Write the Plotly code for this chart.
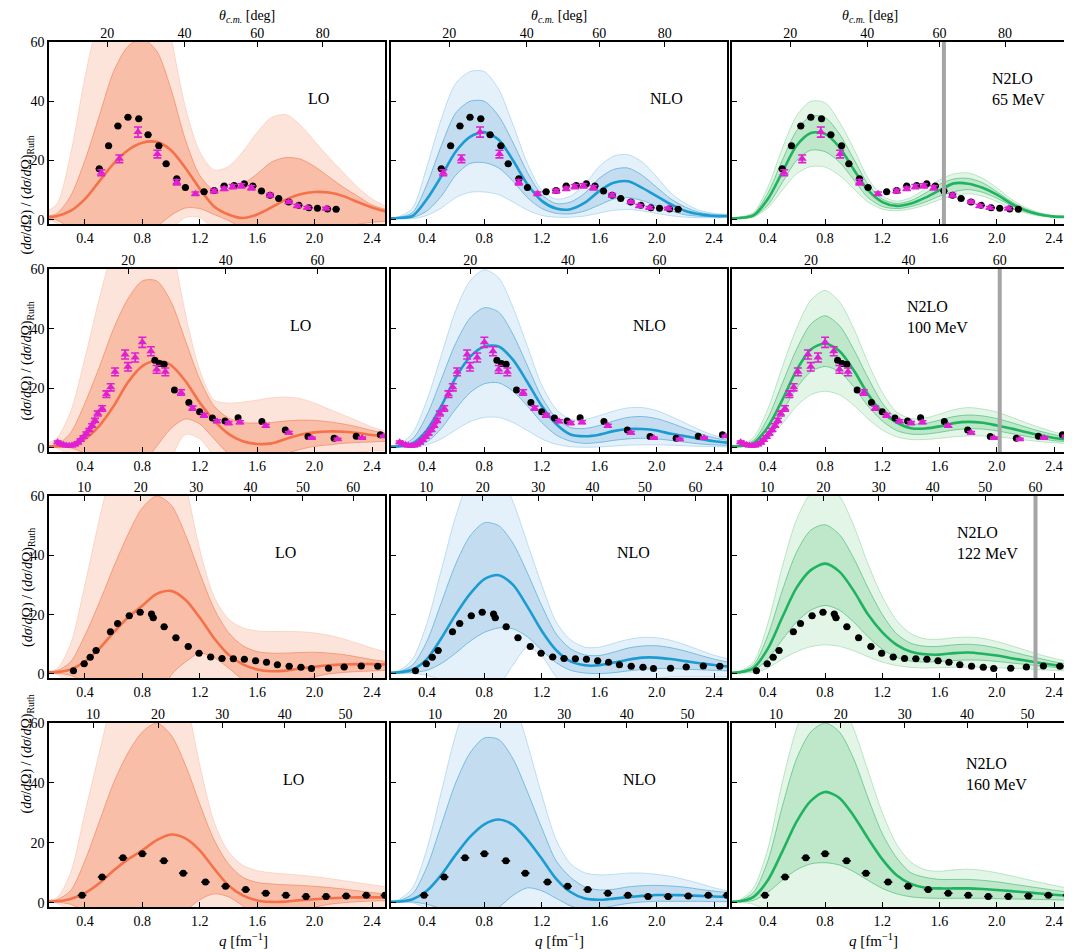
import numpy as np
import plotly.graph_objects as go

# ---- sample grid for the theory bands (q in fm^-1)
q = [0.1, 0.2, 0.3, 0.4, 0.5, 0.6, 0.7, 0.8, 0.9, 1.0, 1.1, 1.2, 1.3,
     1.4, 1.5, 1.6, 1.7, 1.8, 1.9, 2.0, 2.1, 2.2, 2.3, 2.4, 2.5]

energies = [65, 100, 122, 160]
orders = ["LO", "NLO", "N2LO"]

# ---- 65 MeV
lo65_c = [0.8, 1.2, 3.0, 7.0, 13.0, 19.0, 23.5, 26.0, 26.3, 23.5, 17.5, 10.5, 4.5, 1.8, 0.6, 1.8, 4.2, 6.8, 8.6, 9.4, 9.2, 8.0, 6.0, 4.2, 2.8]
lo65_ih = [1.2, 2.0, 8.0, 20.0, 35.0, 50.0, 58.5, 61.0, 57.0, 44.0, 27.0, 15.0, 10.0, 10.0, 12.0, 15.5, 19.5, 21.0, 20.5, 18.0, 14.5, 11.0, 8.0, 5.0, 3.5]
lo65_il = [0.3, 0.0, -3.0, -8.0, -15.0, -20.0, -22.0, -20.0, -3.0, 1.5, 4.0, 3.8, 1.8, -0.2, -3.0, -6.0, -8.0, -8.0, -7.0, -5.0, -3.5, -2.5, -1.5, -0.8, -0.5]
lo65_oh = [2.5, 5.0, 22.0, 48.0, 70.0, 90.0, 100.0, 100.0, 90.0, 62.0, 38.0, 23.0, 16.8, 18.0, 23.0, 29.5, 34.5, 35.5, 32.0, 26.5, 21.0, 16.0, 11.0, 7.0, 4.5]
lo65_ol = [0.2, -1.0, -6.0, -15.0, -25.0, -35.0, -40.0, -38.0, -20.0, -4.0, 0.8, 0.8, -4.0, -12.0, -18.0, -22.0, -24.0, -22.0, -18.0, -14.0, -10.0, -7.0, -5.0, -3.0, -2.0]

nlo65_c = [0.5, 0.6, 1.3, 7.0, 14.7, 23.0, 28.0, 29.6, 27.0, 20.0, 12.0, 6.4, 3.8, 3.6, 5.8, 9.7, 12.5, 13.0, 10.8, 8.0, 5.2, 3.0, 1.9, 1.3, 1.3]
nlo65_ih = [0.6, 0.8, 2.5, 12.0, 25.0, 36.0, 40.0, 40.0, 35.0, 26.0, 16.0, 8.5, 5.5, 6.0, 9.0, 14.0, 17.0, 17.5, 15.0, 11.0, 7.0, 4.3, 2.5, 1.8, 1.5]
nlo65_il = [0.4, 0.5, 0.8, 3.0, 8.0, 15.0, 19.0, 19.3, 17.5, 13.0, 7.5, 3.8, 2.2, 2.0, 3.0, 5.0, 7.0, 7.5, 6.5, 4.7, 3.0, 1.7, 1.2, 1.0, 1.0]
nlo65_oh = [0.7, 1.0, 4.0, 18.0, 34.0, 46.0, 50.0, 50.0, 44.0, 32.0, 19.0, 10.0, 7.0, 8.0, 12.0, 18.0, 21.5, 22.0, 19.5, 14.5, 9.0, 5.5, 3.2, 2.2, 1.8]
nlo65_ol = [0.3, 0.4, 0.4, 1.5, 4.0, 7.5, 9.3, 9.4, 8.5, 6.0, 3.3, 1.5, 0.9, 0.9, 1.3, 2.3, 3.2, 3.5, 3.0, 2.2, 1.4, 0.9, 0.7, 0.7, 0.7]

n2lo65_c = [0.5, 0.6, 1.5, 7.0, 16.0, 25.0, 29.3, 29.0, 24.5, 17.0, 10.0, 6.0, 4.7, 5.5, 7.5, 10.0, 12.3, 12.2, 10.8, 8.5, 5.5, 3.2, 1.8, 1.1, 1.0]
n2lo65_ih = [0.6, 0.8, 2.0, 9.0, 20.0, 30.0, 35.0, 34.5, 29.0, 20.5, 12.0, 7.0, 5.5, 6.5, 9.0, 12.0, 13.8, 14.0, 12.5, 9.5, 6.2, 3.7, 2.1, 1.3, 1.1]
n2lo65_il = [0.4, 0.5, 1.2, 5.0, 12.5, 20.0, 23.5, 23.0, 19.5, 13.5, 7.5, 4.5, 3.8, 4.5, 6.0, 8.0, 9.5, 10.2, 9.3, 7.3, 4.8, 2.7, 1.5, 1.0, 0.9]
n2lo65_oh = [0.7, 0.9, 2.5, 11.0, 24.0, 35.0, 40.0, 39.5, 33.0, 24.0, 14.0, 8.0, 6.3, 7.5, 10.5, 13.5, 15.5, 15.8, 14.0, 10.8, 7.0, 4.2, 2.4, 1.5, 1.2]
n2lo65_ol = [0.3, 0.4, 0.9, 4.0, 10.0, 15.5, 18.0, 17.8, 15.0, 10.5, 6.0, 3.6, 3.1, 3.7, 5.0, 6.8, 8.2, 8.8, 8.0, 6.2, 4.0, 2.3, 1.3, 0.9, 0.8]

# ---- 100 MeV
lo100_c = [0.5, 0.5, 0.8, 3.0, 7.4, 14.0, 22.0, 27.4, 29.3, 27.7, 22.4, 15.2, 9.1, 4.7, 2.2, 1.3, 1.5, 3.0, 4.4, 5.2, 5.5, 5.4, 5.0, 4.3, 3.9]
lo100_ih = [0.8, 1.0, 5.0, 15.0, 27.0, 40.0, 50.0, 56.0, 56.0, 49.0, 36.0, 23.0, 14.0, 10.0, 8.5, 8.3, 8.5, 9.0, 9.3, 9.2, 8.7, 8.0, 7.0, 5.8, 4.8]
lo100_il = [0.3, 0.2, 0.0, -2.0, -6.0, -10.0, -12.0, -6.0, 0.5, 6.5, 9.7, 8.0, 3.0, -2.0, -5.0, -5.0, -4.0, -2.0, -0.5, 0.5, 1.0, 1.5, 1.8, 2.0, 2.2]
lo100_oh = [1.0, 3.0, 12.0, 30.0, 50.0, 68.0, 85.0, 95.0, 92.0, 70.0, 45.0, 26.0, 16.0, 15.0, 15.3, 16.0, 16.8, 17.0, 16.5, 15.0, 13.0, 11.0, 9.0, 7.0, 5.5]
lo100_ol = [0.2, 0.0, -3.0, -10.0, -20.0, -30.0, -35.0, -30.0, -20.0, -4.0, 4.5, 3.0, -3.0, -10.0, -15.0, -15.0, -12.0, -9.0, -6.0, -4.0, -3.0, -2.0, -1.5, -1.0, -1.0]

nlo100_c = [0.4, 0.5, 1.5, 6.0, 14.0, 23.5, 30.5, 34.0, 34.0, 29.5, 22.0, 14.0, 8.0, 4.5, 3.9, 4.4, 5.6, 6.3, 6.3, 5.8, 4.7, 3.9, 3.0, 2.2, 1.7]
nlo100_ih = [0.6, 0.8, 3.0, 11.0, 23.0, 35.0, 43.5, 47.0, 45.5, 38.0, 27.5, 17.0, 10.0, 6.8, 6.5, 7.5, 9.0, 10.2, 10.5, 9.8, 8.3, 6.5, 4.8, 3.4, 2.5]
nlo100_il = [0.3, 0.3, 0.5, 2.0, 6.5, 13.0, 18.5, 21.5, 21.8, 19.0, 14.0, 8.5, 4.3, 2.2, 1.5, 1.8, 2.5, 3.0, 3.2, 3.0, 2.5, 1.9, 1.3, 1.0, 0.8]
nlo100_oh = [0.7, 1.0, 5.0, 16.0, 31.0, 46.0, 56.0, 59.7, 57.0, 47.0, 34.0, 21.0, 13.0, 9.5, 9.5, 10.8, 12.3, 13.4, 13.5, 12.5, 10.5, 8.3, 6.0, 4.2, 3.0]
nlo100_ol = [0.2, 0.2, 0.2, 1.0, 3.0, 6.0, 8.8, 10.2, 10.2, 8.5, 5.8, 3.0, 1.2, 0.4, 0.2, 0.3, 0.6, 0.9, 1.0, 1.0, 0.9, 0.7, 0.5, 0.4, 0.3]

n2lo100_c = [0.5, 0.6, 1.6, 7.0, 16.0, 26.0, 33.0, 35.0, 32.5, 26.0, 18.0, 12.0, 8.5, 6.6, 6.5, 7.2, 8.3, 8.7, 8.4, 7.5, 6.5, 5.3, 4.2, 3.3, 2.7]
n2lo100_ih = [0.6, 0.8, 2.5, 10.0, 21.5, 33.0, 41.5, 44.3, 41.0, 33.0, 23.5, 15.0, 9.8, 8.0, 8.2, 9.3, 10.5, 11.0, 10.7, 9.8, 8.5, 7.0, 5.6, 4.4, 3.5]
n2lo100_il = [0.4, 0.4, 1.0, 5.0, 12.0, 20.0, 25.5, 27.3, 25.5, 20.5, 14.0, 9.0, 5.8, 4.6, 4.6, 5.2, 6.0, 6.4, 6.3, 5.7, 4.8, 3.9, 3.1, 2.4, 2.0]
n2lo100_oh = [0.7, 0.9, 3.5, 13.0, 27.0, 40.0, 49.5, 52.8, 49.0, 40.0, 28.5, 18.5, 12.0, 9.8, 10.0, 11.3, 12.8, 13.5, 13.0, 12.0, 10.3, 8.5, 6.8, 5.3, 4.2]
n2lo100_ol = [0.3, 0.3, 0.6, 3.0, 8.0, 14.0, 17.8, 19.0, 17.8, 14.3, 9.7, 6.0, 3.7, 2.8, 2.8, 3.2, 3.7, 4.0, 4.0, 3.7, 3.2, 2.6, 2.1, 1.7, 1.4]

# ---- 122 MeV
lo122_c = [0.5, 0.6, 1.5, 4.2, 8.5, 14.0, 19.0, 23.0, 27.0, 28.0, 25.0, 19.0, 12.0, 6.5, 3.2, 1.5, 0.9, 1.1, 1.8, 2.4, 2.9, 3.2, 3.3, 3.3, 3.2]
lo122_ih = [0.8, 1.0, 4.0, 13.0, 24.0, 36.0, 47.0, 56.0, 60.0, 57.0, 47.0, 34.0, 22.0, 14.0, 9.5, 7.5, 7.0, 7.0, 7.2, 7.3, 7.0, 6.5, 5.7, 4.8, 4.2]
lo122_il = [0.3, 0.2, -0.5, -3.0, -8.0, -14.0, -18.0, -20.0, -12.0, -0.5, 4.0, 7.0, 5.5, 2.0, -2.0, -5.0, -5.0, -4.0, -2.5, -1.0, 0.0, 0.5, 0.8, 1.0, 1.2]
lo122_oh = [1.0, 1.5, 10.0, 30.0, 52.0, 72.0, 90.0, 100.0, 100.0, 90.0, 65.0, 42.0, 26.0, 18.5, 15.5, 14.5, 14.3, 14.3, 14.2, 13.8, 13.0, 11.8, 10.3, 8.7, 7.3]
lo122_ol = [0.2, 0.0, -4.0, -12.0, -22.0, -32.0, -38.0, -40.0, -35.0, -25.0, -12.0, -5.0, -5.0, -10.0, -15.0, -18.0, -18.0, -16.0, -13.0, -10.0, -8.0, -6.0, -4.0, -3.0, -2.0]

nlo122_c = [0.4, 0.5, 1.5, 5.0, 12.0, 20.0, 27.0, 32.0, 33.3, 30.0, 22.7, 14.5, 8.0, 4.2, 2.9, 2.9, 3.8, 4.8, 5.5, 5.5, 5.0, 4.3, 3.6, 3.0, 2.5]
nlo122_ih = [0.5, 0.7, 3.0, 11.0, 24.0, 37.0, 46.5, 51.0, 50.0, 44.0, 34.0, 23.0, 13.5, 8.5, 6.4, 6.2, 7.3, 8.7, 9.4, 9.5, 8.8, 7.7, 6.3, 5.0, 3.9]
nlo122_il = [0.3, 0.3, 0.5, 1.2, 3.5, 7.0, 11.0, 14.0, 15.5, 15.2, 12.5, 8.0, 3.8, 1.2, 0.3, 0.1, 0.4, 1.0, 1.5, 1.8, 1.8, 1.6, 1.4, 1.2, 1.0]
nlo122_oh = [0.6, 1.0, 5.0, 17.0, 35.0, 53.0, 66.0, 71.0, 68.0, 58.0, 44.0, 30.0, 17.5, 11.5, 9.0, 9.0, 10.3, 11.6, 12.3, 12.2, 11.3, 9.8, 8.0, 6.3, 5.0]
nlo122_ol = [0.2, 0.2, 0.2, -0.5, -2.0, -4.0, -6.0, -7.0, -4.0, 3.0, 9.0, 6.0, -1.0, -5.0, -6.0, -5.0, -4.0, -3.0, -2.0, -1.5, -1.0, -1.0, -1.0, -1.0, -1.0]

n2lo122_c = [0.4, 0.5, 2.0, 8.5, 19.0, 29.0, 35.0, 37.2, 34.5, 28.0, 20.0, 14.0, 9.8, 7.5, 6.6, 6.5, 7.0, 7.2, 6.8, 6.2, 5.3, 4.5, 3.7, 3.0, 2.4]
n2lo122_ih = [0.5, 0.7, 3.0, 13.0, 28.0, 41.0, 48.5, 50.3, 47.0, 39.0, 29.0, 20.0, 13.5, 10.3, 9.3, 9.3, 9.8, 10.0, 9.6, 8.7, 7.5, 6.3, 5.2, 4.1, 3.3]
n2lo122_il = [0.3, 0.4, 1.2, 5.0, 11.5, 17.5, 21.5, 23.1, 21.5, 17.5, 12.5, 8.3, 5.6, 4.3, 4.0, 4.2, 4.5, 4.7, 4.6, 4.2, 3.7, 3.2, 2.7, 2.2, 1.8]
n2lo122_oh = [0.6, 0.9, 4.0, 17.0, 36.0, 52.0, 61.0, 64.0, 60.0, 50.0, 37.0, 26.0, 18.0, 13.5, 11.8, 11.7, 12.2, 12.4, 12.0, 10.9, 9.5, 8.0, 6.5, 5.2, 4.2]
n2lo122_ol = [0.2, 0.3, 0.5, 2.0, 5.0, 7.5, 9.2, 9.8, 9.3, 7.8, 5.8, 4.0, 2.8, 2.2, 2.0, 2.1, 2.2, 2.3, 2.3, 2.1, 1.9, 1.7, 1.4, 1.2, 1.0]

# ---- 160 MeV
lo160_c = [0.5, 0.5, 1.3, 3.2, 6.5, 10.8, 14.5, 17.5, 20.9, 22.8, 21.5, 17.5, 11.4, 5.8, 2.5, 0.8, 0.3, 0.4, 0.9, 1.2, 1.5, 1.7, 1.8, 1.8, 1.8]
lo160_ih = [0.8, 1.0, 4.0, 14.0, 27.0, 40.0, 50.0, 57.0, 60.0, 56.0, 46.0, 33.0, 21.0, 13.0, 8.5, 6.8, 6.3, 6.0, 5.8, 5.5, 5.1, 4.6, 4.0, 3.4, 3.0]
lo160_il = [0.3, 0.2, -0.5, -3.0, -8.0, -13.0, -17.0, -18.0, -15.0, -9.0, -3.0, 1.0, 3.0, 2.0, -1.0, -4.0, -5.0, -4.0, -3.0, -1.5, -0.5, 0.0, 0.4, 0.6, 0.7]
lo160_oh = [1.0, 1.5, 10.0, 30.0, 50.0, 70.0, 88.0, 100.0, 100.0, 92.0, 70.0, 46.0, 27.0, 17.0, 12.5, 10.7, 10.0, 9.6, 9.2, 8.7, 8.1, 7.4, 6.7, 6.0, 5.3]
lo160_ol = [0.2, 0.0, -4.0, -12.0, -22.0, -32.0, -38.0, -40.0, -36.0, -28.0, -18.0, -10.0, -8.0, -10.0, -13.0, -15.0, -15.0, -13.0, -10.0, -8.0, -6.0, -5.0, -4.0, -3.0, -2.0]

nlo160_c = [0.4, 0.4, 1.2, 4.0, 9.3, 16.0, 22.0, 26.2, 27.8, 26.0, 21.0, 14.7, 8.0, 3.6, 1.4, 1.0, 1.4, 1.9, 2.3, 2.6, 2.6, 2.5, 2.3, 2.1, 1.9]
nlo160_ih = [0.5, 0.7, 3.0, 12.0, 26.0, 40.0, 50.0, 55.0, 54.5, 48.0, 37.0, 25.0, 14.0, 8.5, 5.3, 4.3, 4.5, 5.3, 5.7, 5.8, 5.6, 5.2, 4.5, 3.9, 3.4]
nlo160_il = [0.3, 0.3, 0.3, -0.5, -2.0, -4.0, -5.0, -4.0, -1.5, 2.5, 5.0, 4.0, 1.5, -1.0, -2.5, -2.0, -1.0, -0.2, 0.3, 0.5, 0.5, 0.5, 0.5, 0.4, 0.4]
nlo160_oh = [0.6, 1.0, 5.0, 18.0, 37.0, 56.0, 70.0, 77.0, 76.0, 68.0, 53.0, 36.0, 21.0, 13.0, 10.0, 9.3, 9.5, 9.9, 9.9, 9.5, 8.8, 7.7, 6.4, 5.0, 3.9]
nlo160_ol = [0.2, 0.2, 0.0, -2.0, -6.0, -10.0, -13.0, -14.0, -12.0, -8.0, -5.0, -5.0, -7.0, -9.0, -9.0, -7.0, -5.0, -3.5, -2.5, -2.0, -1.8, -1.8, -1.8, -1.8, -1.8]

n2lo160_c = [0.4, 0.5, 2.0, 7.5, 17.0, 27.0, 34.0, 37.0, 35.0, 29.0, 21.5, 14.5, 9.2, 6.3, 5.0, 4.8, 4.8, 4.8, 4.6, 4.3, 3.9, 3.5, 3.1, 2.7, 2.3]
n2lo160_ih = [0.5, 0.7, 3.5, 14.0, 32.0, 48.0, 57.0, 60.0, 57.0, 48.0, 35.0, 23.0, 15.0, 10.0, 8.5, 7.8, 7.8, 7.8, 7.5, 7.0, 6.3, 5.6, 4.9, 4.2, 3.6]
n2lo160_il = [0.3, 0.3, 0.8, 3.5, 7.5, 11.0, 13.0, 13.4, 12.6, 10.4, 7.5, 4.8, 3.0, 2.0, 1.6, 1.5, 1.5, 1.5, 1.5, 1.4, 1.3, 1.2, 1.1, 1.0, 0.9]
n2lo160_oh = [0.6, 0.9, 5.0, 18.0, 40.0, 58.0, 69.0, 72.0, 68.0, 58.0, 44.0, 30.0, 19.5, 13.5, 11.0, 10.5, 11.0, 11.2, 10.8, 10.0, 9.0, 7.9, 6.8, 5.8, 4.8]
n2lo160_ol = [0.2, 0.2, -0.5, -3.0, -6.0, -9.0, -10.0, -10.0, -9.0, -7.0, -5.0, -3.5, -2.5, -2.2, -2.0, -2.0, -2.0, -2.0, -2.0, -2.0, -2.0, -2.0, -2.0, -2.0, -2.0]

# ---- experimental data (black circles, shared by a row)
blk65_q = [0.50, 0.565, 0.63, 0.70, 0.775, 0.84, 0.915, 0.966, 1.04, 1.10, 1.23, 1.30, 1.37, 1.44, 1.51, 1.57, 1.63, 1.69, 1.75, 1.82, 1.89, 1.96, 2.02, 2.09, 2.15]
blk65_v = [17.2, 25.0, 31.7, 34.6, 34.1, 28.7, 25.0, 18.9, 13.9, 10.9, 9.5, 9.9, 11.4, 11.6, 12.2, 11.4, 9.7, 8.3, 7.2, 6.0, 4.9, 4.1, 3.9, 3.7, 3.6]
blk100_q = [0.887, 0.919, 0.952, 1.024, 1.124, 1.199, 1.288, 1.376, 1.467, 1.633, 1.796, 1.954, 2.136, 2.29, 2.458]
blk100_v = [29.4, 28.3, 28.0, 19.4, 15.2, 12.1, 10.0, 9.0, 10.1, 8.8, 6.0, 3.8, 3.2, 3.9, 4.4]
blk122_q = [0.32, 0.395, 0.437, 0.478, 0.578, 0.628, 0.709, 0.785, 0.864, 0.876, 0.952, 1.034, 1.12, 1.195, 1.276, 1.355, 1.434, 1.511, 1.589, 1.665, 1.741, 1.823, 1.905, 1.978, 2.097, 2.206, 2.325, 2.44]
blk122_v = [1.1, 3.4, 5.6, 7.9, 14.2, 17.0, 19.6, 20.8, 20.2, 18.9, 15.9, 12.2, 9.2, 7.0, 5.7, 5.2, 5.1, 4.9, 4.4, 3.9, 3.1, 2.6, 2.2, 1.8, 1.9, 2.3, 2.7, 2.6]
blk160_q = [0.38, 0.52, 0.665, 0.80, 0.95, 1.085, 1.24, 1.38, 1.52, 1.66, 1.80, 1.94, 2.08, 2.22, 2.36, 2.49]
blk160_v = [2.5, 8.6, 15.0, 16.4, 14.0, 9.9, 6.9, 5.5, 4.4, 3.2, 2.5, 2.1, 2.1, 2.3, 2.5, 2.5]
blk_xerr = [0.025, 0.0, 0.025, 0.03]
blk_yerr = [0.5, 0.0, 0.6, 0.7]

# ---- experimental data (magenta triangles)
mag65_q = [0.514, 0.64, 0.77, 0.905, 1.04, 1.17, 1.30, 1.37, 1.43, 1.49, 1.56, 1.69, 1.82, 1.88, 1.95, 2.08]
mag65_v = [15.9, 20.6, 29.6, 22.2, 12.7, 8.8, 9.7, 10.5, 11.2, 11.5, 10.8, 8.3, 6.0, 4.7, 4.1, 3.8]
mag65_e = [1.0, 1.3, 1.7, 1.3, 0.9, 0.6, 0.6, 0.6, 0.7, 0.7, 0.7, 0.6, 0.5, 0.5, 0.4, 0.4]
mag100_q = [0.21, 0.23, 0.25, 0.27, 0.29, 0.31, 0.33, 0.35, 0.37, 0.39, 0.41, 0.43, 0.45, 0.47, 0.49, 0.52,
            0.55, 0.58, 0.61, 0.68, 0.70, 0.75, 0.80, 0.86, 0.90, 0.96, 1.07, 1.15, 1.23, 1.32, 1.40, 1.48,
            1.66, 1.82, 1.98, 2.16, 2.33, 2.48]
mag100_v = [1.9, 1.4, 1.0, 0.8, 0.7, 0.8, 1.1, 1.7, 2.6, 3.6, 4.8, 6.0, 7.5, 9.2, 11.5, 13.2,
            18.0, 20.3, 25.5, 31.3, 27.2, 30.3, 35.4, 32.4, 26.3, 25.5, 18.6, 13.3, 10.9, 8.9, 8.3, 8.6,
            7.4, 5.1, 3.3, 2.9, 3.3, 3.9]
mag100_e = [0.4, 0.3, 0.3, 0.3, 0.3, 0.3, 0.3, 0.3, 0.4, 0.4, 0.5, 0.5, 0.6, 0.7, 0.8, 0.9,
            1.1, 1.2, 1.3, 1.5, 1.4, 1.5, 1.7, 1.5, 1.3, 1.3, 0.9, 0.7, 0.6, 0.5, 0.5, 0.5,
            0.5, 0.4, 0.3, 0.3, 0.3, 0.3]

# ---- top axis (scattering angle) and N2LO cutoff bars
k_cm = [1.60, 2.02, 2.27, 2.62]
theta_ticks = [[20, 40, 60, 80], [20, 40, 60], [10, 20, 30, 40, 50, 60], [10, 20, 30, 40, 50]]
cut_q = [1.63, 2.02, 2.27, None]

# ---- label positions (q, value)
name_pos = [[(2.03, 41), (2.07, 41), (1.95, 44)],
            [(1.90, 41), (1.95, 41), (1.36, 44)],
            [(1.80, 41), (1.84, 41), (1.71, 44)],
            [(1.85, 41), (1.88, 41), (1.77, 43)]]

bands = {
    (0, 0): (lo65_c, lo65_il, lo65_ih, lo65_ol, lo65_oh),
    (0, 1): (nlo65_c, nlo65_il, nlo65_ih, nlo65_ol, nlo65_oh),
    (0, 2): (n2lo65_c, n2lo65_il, n2lo65_ih, n2lo65_ol, n2lo65_oh),
    (1, 0): (lo100_c, lo100_il, lo100_ih, lo100_ol, lo100_oh),
    (1, 1): (nlo100_c, nlo100_il, nlo100_ih, nlo100_ol, nlo100_oh),
    (1, 2): (n2lo100_c, n2lo100_il, n2lo100_ih, n2lo100_ol, n2lo100_oh),
    (2, 0): (lo122_c, lo122_il, lo122_ih, lo122_ol, lo122_oh),
    (2, 1): (nlo122_c, nlo122_il, nlo122_ih, nlo122_ol, nlo122_oh),
    (2, 2): (n2lo122_c, n2lo122_il, n2lo122_ih, n2lo122_ol, n2lo122_oh),
    (3, 0): (lo160_c, lo160_il, lo160_ih, lo160_ol, lo160_oh),
    (3, 1): (nlo160_c, nlo160_il, nlo160_ih, nlo160_ol, nlo160_oh),
    (3, 2): (n2lo160_c, n2lo160_il, n2lo160_ih, n2lo160_ol, n2lo160_oh),
}
black = [(blk65_q, blk65_v), (blk100_q, blk100_v), (blk122_q, blk122_v), (blk160_q, blk160_v)]
magenta = [(mag65_q, mag65_v, mag65_e), (mag100_q, mag100_v, mag100_e), None, None]

# colours per order: line, inner fill, outer fill, inner edge, outer edge
palette = [
    ("#f4714a", "#f9bea7", "#fde4da", "#f58d6b", "#fbcdbb"),
    ("#1a9cd3", "#c4dcef", "#e4f1fa", "#5eb1dc", "#acd5ee"),
    ("#1db35f", "#bfe7ca", "#e3f5e7", "#5cc486", "#a8dfb8"),
]
MAG = "#e01fd2"
FONT = "Liberation Serif"

col_dom = [[0.0, 0.330], [0.336, 0.666], [0.671, 1.0]]
row_dom = [[0.7896, 1.0], [0.526, 0.7376], [0.2647, 0.4751], [0.0, 0.2127]]
XR = [0.15, 2.49]
YR = [-1.4, 60]

fig = go.Figure()
layout = {}
shapes = []
annotations = []


def line_tr(y, color, width, xa, ya, fill=None, fillcolor=None):
    return go.Scatter(x=q, y=y, mode="lines", line=dict(color=color, width=width, shape="spline", smoothing=0.8),
                      fill=fill, fillcolor=fillcolor, xaxis=xa, yaxis=ya, hoverinfo="skip", showlegend=False)


for r in range(4):
    for c in range(3):
        i = r * 3 + c + 1
        xa, ya = "x%d" % i, "y%d" % i
        xt = "x%d" % (i + 12)
        cen, il, ih, ol, oh = bands[(r, c)]
        lc, fin, fout, ein, eout = palette[c]

        fig.add_trace(line_tr(ol, eout, 0.8, xa, ya))
        fig.add_trace(line_tr(oh, eout, 0.8, xa, ya, "tonexty", fout))
        fig.add_trace(line_tr(il, ein, 0.8, xa, ya))
        fig.add_trace(line_tr(ih, ein, 0.8, xa, ya, "tonexty", fin))
        fig.add_trace(line_tr(cen, lc, 2.6, xa, ya))

        bq, bv = black[r]
        fig.add_trace(go.Scatter(
            x=bq, y=bv, mode="markers", xaxis=xa, yaxis=ya, showlegend=False, hoverinfo="skip",
            marker=dict(color="black", size=7, symbol="circle"),
            error_x=dict(type="constant", value=blk_xerr[r], color="black", thickness=1.6, width=0,
                         visible=blk_xerr[r] > 0),
            error_y=dict(type="constant", value=blk_yerr[r], color="black", thickness=1.2, width=2,
                         visible=blk_yerr[r] > 0)))
        if magenta[r] is not None:
            mq, mv, me = magenta[r]
            fig.add_trace(go.Scatter(
                x=mq, y=mv, mode="markers", xaxis=xa, yaxis=ya, showlegend=False, hoverinfo="skip",
                marker=dict(color=MAG, size=8, symbol="triangle-up"),
                error_y=dict(type="data", array=me, color=MAG, thickness=1.6, width=4)))
        # dummy trace so the top axis is drawn
        fig.add_trace(go.Scatter(x=[1.0], y=[None], xaxis=xt, yaxis=ya, showlegend=False, hoverinfo="skip"))

        if c == 2 and cut_q[r] is not None:
            shapes.append(dict(type="rect", xref=xa, yref="%s domain" % ya, x0=cut_q[r] - 0.014,
                               x1=cut_q[r] + 0.014, y0=0, y1=1, fillcolor="#a5a5a5",
                               line=dict(width=0), layer="above"))

        axis_common = dict(showgrid=False, zeroline=False, ticks="inside", ticklen=5, tickwidth=1,
                           tickcolor="black", automargin=False,
                           tickfont=dict(family=FONT, size=14, color="black"))
        layout["xaxis%d" % i] = dict(domain=col_dom[c], anchor=ya, range=XR,
                                     tickvals=[0.4, 0.8, 1.2, 1.6, 2.0, 2.4], tickformat=".1f",
                                     showline=True, linecolor="black", linewidth=1.5, mirror=True,
                                     **axis_common)
        th = theta_ticks[r]
        layout["xaxis%d" % (i + 12)] = dict(overlaying=xa, anchor=ya, side="top", range=XR,
                                            tickvals=[2 * k_cm[r] * np.sin(np.radians(t) / 2) for t in th],
                                            ticktext=[str(t) for t in th], showline=False, **axis_common)
        layout["yaxis%d" % i] = dict(domain=row_dom[r], anchor=xa, range=YR, tickvals=[0, 20, 40, 60],
                                     showticklabels=(c == 0), showline=True, linecolor="black",
                                     linewidth=1.5, mirror=True, **axis_common)

        # panel label
        nq, nv = name_pos[r][c]
        if c < 2:
            annotations.append(dict(x=nq, y=nv, xref=xa, yref=ya, text=orders[c], showarrow=False,
                                    font=dict(family=FONT, size=16, color="black")))
        else:
            annotations.append(dict(x=nq, y=nv, xref=xa, yref=ya, xanchor="left", align="left",
                                    text="N2LO<br>%d MeV" % energies[r], showarrow=False,
                                    font=dict(family=FONT, size=16, color="black")))

    # y-axis title for the row
    annotations.append(dict(x=-0.031, y=sum(row_dom[r]) / 2, xref="paper", yref="paper", textangle=-90,
                            text="(<i>dσ</i>/<i>d</i>Ω) / (<i>dσ</i>/<i>d</i>Ω)<sub>Ruth</sub>",
                            showarrow=False, font=dict(family=FONT, size=14, color="black")))

for c in range(3):
    mid = sum(col_dom[c]) / 2
    annotations.append(dict(x=mid, y=1.029, xref="paper", yref="paper", yanchor="middle",
                            text="<i>θ</i><sub><i>c.m.</i></sub> [deg]", showarrow=False,
                            font=dict(family=FONT, size=14, color="black")))
    annotations.append(dict(x=mid, y=-0.038, xref="paper", yref="paper", yanchor="middle",
                            text="<i>q</i> [fm<sup>−1</sup>]", showarrow=False,
                            font=dict(family=FONT, size=15, color="black")))

# the page adds an 8px body margin, so the figure is sized to fill the rest of the window
fig.update_layout(
    width=1064, height=944,
    margin=dict(l=41, r=5, t=34, b=45),
    paper_bgcolor="white", plot_bgcolor="white",
    showlegend=False, shapes=shapes, annotations=annotations,
    **layout,
)

fig.write_html("out.html")
